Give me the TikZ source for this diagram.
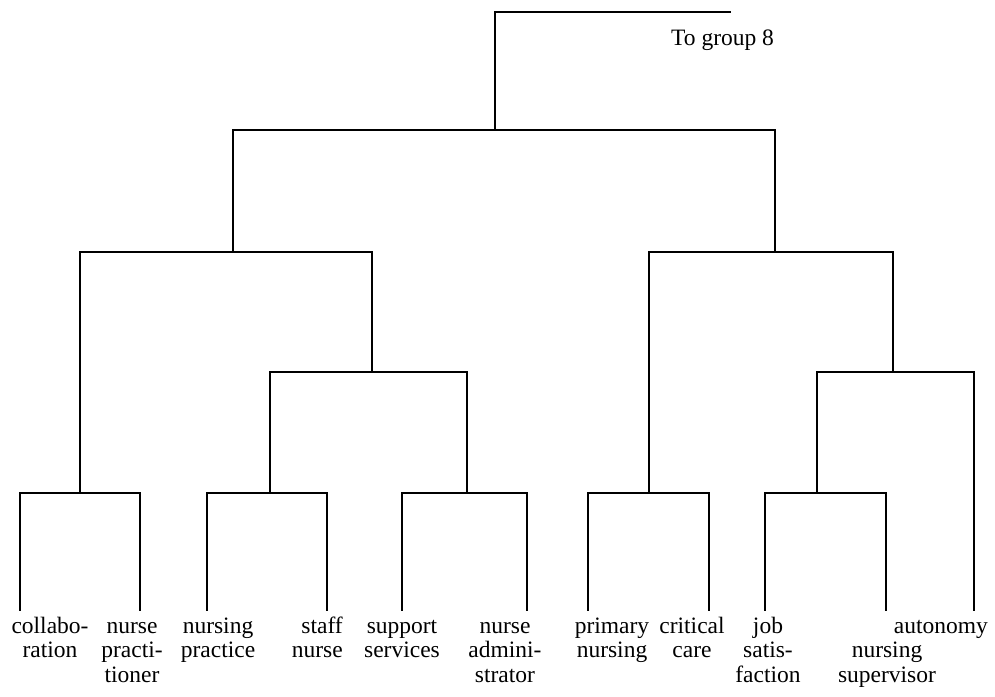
\documentclass[tikz,border=0pt]{standalone}
\usepackage{fontspec}
\setmainfont{Liberation Serif}
\begin{document}
\begin{tikzpicture}[x=1pt,y=-1pt,
  link/.style={line width=2.9pt, line cap=rect, line join=miter},
  leaflabel/.style={anchor=north, align=center, inner sep=0pt,
    font=\fontsize{23.5}{24.5}\selectfont},
  notelabel/.style={anchor=base west, inner sep=0pt,
    font=\fontsize{23.5}{24.5}\selectfont},
]
\useasboundingbox (0,0) rectangle (995,696);

% leaf tips of the dendrogram
\coordinate (t1)  at (20,610);
\coordinate (t2)  at (140,610);
\coordinate (t3)  at (207,610);
\coordinate (t4)  at (327,610);
\coordinate (t5)  at (402,610);
\coordinate (t6)  at (527,610);
\coordinate (t7)  at (588,610);
\coordinate (t8)  at (709,610);
\coordinate (t9)  at (765,610);
\coordinate (t10) at (886,610);
\coordinate (t11) at (974,610);

% merge points (bar height, stem position)
\coordinate (j12)    at (80,493);
\coordinate (j34)    at (270,493);
\coordinate (j56)    at (467,493);
\coordinate (j78)    at (649,493);
\coordinate (j910)   at (817,493);
\coordinate (j3456)  at (372,372);
\coordinate (j91011) at (893,372);
\coordinate (jL)     at (233,252);
\coordinate (jR)     at (775,252);
\coordinate (root)   at (495,130);
\coordinate (g8)     at (730,12);

% bottom level pairs
\draw[link] (t1) |- (j12);   \draw[link] (t2) |- (j12);
\draw[link] (t3) |- (j34);   \draw[link] (t4) |- (j34);
\draw[link] (t5) |- (j56);   \draw[link] (t6) |- (j56);
\draw[link] (t7) |- (j78);   \draw[link] (t8) |- (j78);
\draw[link] (t9) |- (j910);  \draw[link] (t10) |- (j910);

% upper levels
\draw[link] (j34) |- (j3456);  \draw[link] (j56) |- (j3456);
\draw[link] (j910) |- (j91011); \draw[link] (t11) |- (j91011);
\draw[link] (j12) |- (jL);     \draw[link] (j3456) |- (jL);
\draw[link] (j78) |- (jR);     \draw[link] (j91011) |- (jR);
\draw[link] (jL) |- (root);    \draw[link] (jR) |- (root);
\draw[link] (root) |- (g8);

\node[notelabel] (tog8) at (671,45) {To group 8};

% leaf labels
\node[leaflabel] (collab) at (50,616) {\strut collabo-\\ration};
\node[leaflabel] (npract) at (132,616) {\strut nurse\\practi-\\tioner};
\node[leaflabel] (nprac)  at (218,616) {\strut nursing\\practice};
\node[leaflabel, anchor=north east, align=right] (staff) at (343,616) {\strut staff\\nurse};
\node[leaflabel] (supp)   at (402,616) {\strut support\\services};
\node[leaflabel] (nadmin) at (505,616) {\strut nurse\\admini-\\strator};
\node[leaflabel] (prim)   at (612,616) {\strut primary\\nursing};
\node[leaflabel] (crit)   at (692,616) {\strut critical\\care};
\node[leaflabel] (job)    at (768,616) {\strut job\\satis-\\faction};
\node[leaflabel, anchor=north east] (auton) at (988,616) {\strut autonomy};
\node[leaflabel] (nsup)   at (887,640.5) {\strut nursing\\supervisor};
\end{tikzpicture}
\end{document}
